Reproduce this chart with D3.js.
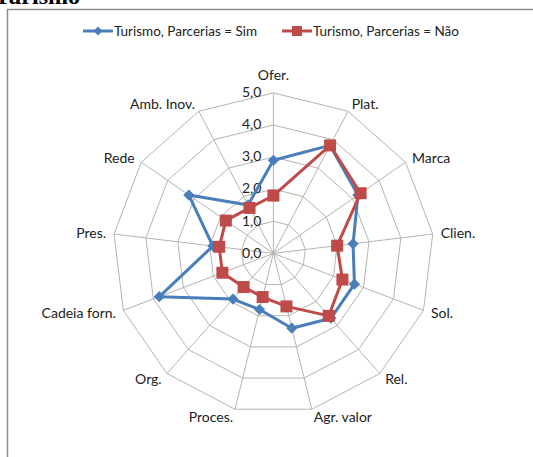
<!DOCTYPE html>
<html>
<head>
<meta charset="utf-8">
<script src="https://cdn.jsdelivr.net/npm/d3@7"></script>
<style>
  body { margin: 0; background: #fff; }
  svg { display: block; }
  text { font-family: Lato, "Open Sans", sans-serif; fill: #222; }
</style>
</head>
<body>
<div id="graph"></div>
<script>
const categories = ["Ofer.", "Plat.", "Marca", "Clien.", "Sol.", "Rel.", "Agr. valor", "Proces.", "Org.", "Cadeia forn.", "Pres.", "Rede", "Amb. Inov."]
const simValues = [2.9, 3.8, 3.2, 2.5, 2.7, 2.7, 2.4, 1.8, 1.9, 3.8, 1.9, 3.2, 1.7]
const naoValues = [1.8, 3.8, 3.3, 2.0, 2.3, 2.6, 1.7, 1.4, 1.4, 1.7, 1.7, 1.8, 1.6]
const tickValues = [0, 1, 2, 3, 4, 5]
const seriesNames = ["Turismo, Parcerias = Sim", "Turismo, Parcerias = Não"]

const width = 533
const height = 457
const cx = 273.4
const cy = 253.4
const radius = 160.5

const svg = d3.select("#graph")
  .append("svg")
  .attr("width", width)
  .attr("height", height)

// title, cut off at the top of the picture
svg.append("text")
  .attr("x", 80).attr("y", 4)
  .attr("text-anchor", "end")
  .style("font-family", "'Liberation Serif', 'DejaVu Serif', serif")
  .style("font-weight", "bold")
  .style("font-size", "24px")
  .style("fill", "#000")
  .text("Turismo")

// chart frame
svg.append("rect")
  .attr("x", 7.5).attr("y", 9.5)
  .attr("width", 600).attr("height", 600)
  .attr("fill", "none")
  .attr("stroke", "#8c8c8c")
  .attr("stroke-width", 1.5)

const r = d3.scaleLinear().domain([0, 5]).range([0, radius])
const angle = d3.scaleLinear().domain([0, categories.length]).range([0, 2 * Math.PI])

const g = svg.append("g").attr("transform", "translate(" + cx + "," + cy + ")")

const ring = d3.lineRadial()
  .angle((d, i) => angle(i))
  .radius(d => r(d))
  .curve(d3.curveLinearClosed)

// grid rings
tickValues.slice(1).forEach(t => {
  g.append("path")
    .attr("d", ring(categories.map(() => t)))
    .attr("fill", "none")
    .attr("stroke", "#b4b4b4")
    .attr("stroke-width", 1)
})

// spokes
categories.forEach((c, i) => {
  const a = angle(i)
  g.append("line")
    .attr("x1", 0).attr("y1", 0)
    .attr("x2", r(5) * Math.sin(a))
    .attr("y2", -r(5) * Math.cos(a))
    .attr("stroke", "#b4b4b4")
    .attr("stroke-width", 1)
})

// tick labels
tickValues.forEach(t => {
  g.append("text")
    .attr("x", -12)
    .attr("y", -r(t))
    .attr("dy", "0.3em")
    .attr("text-anchor", "end")
    .style("font-size", "14px")
    .text(d3.format(".1f")(t).replace(".", ","))
})

// category labels
categories.forEach((c, i) => {
  const a = angle(i)
  const s = Math.sin(a), co = Math.cos(a)
  let d = 8
  let anchor = "middle"
  if (s > 0.1) anchor = "start"
  else if (s < -0.1) anchor = "end"
  if (anchor == "middle") d = 18
  g.append("text")
    .attr("x", (r(5) + d) * s)
    .attr("y", -(r(5) + d) * co)
    .attr("dy", "0.35em")
    .attr("text-anchor", anchor)
    .style("font-size", "14px")
    .text(c)
})

const blue = "#4a7ebb"
const red = "#be4b48"

function drawSeries(values, color, shape) {
  g.append("path")
    .attr("d", ring(values))
    .attr("fill", "none")
    .attr("stroke", color)
    .attr("stroke-width", 3)
    .attr("stroke-linejoin", "round")
  values.forEach((v, i) => {
    const a = angle(i)
    g.append("path")
      .attr("transform", "translate(" + (r(v) * Math.sin(a)) + "," + (-r(v) * Math.cos(a)) + ")")
      .attr("d", shape)
      .attr("fill", color)
  })
}

const diamond = d3.symbol().type(d3.symbolDiamond2).size(80)()
const square = "M-6,-6H6V6H-6Z"

drawSeries(simValues, blue, diamond)
drawSeries(naoValues, red, square)

// legend
const legend = [
  { name: seriesNames[0], color: blue, shape: diamond, x: 83 },
  { name: seriesNames[1], color: red, shape: square, x: 282 }
]
legend.forEach(l => {
  svg.append("line")
    .attr("x1", l.x).attr("x2", l.x + 30)
    .attr("y1", 31).attr("y2", 31)
    .attr("stroke", l.color).attr("stroke-width", 3)
  svg.append("path")
    .attr("transform", "translate(" + (l.x + 15) + ",31)")
    .attr("d", l.shape == square ? "M-5,-5H5V5H-5Z" : d3.symbol().type(d3.symbolDiamond2).size(50)())
    .attr("fill", l.color)
  svg.append("text")
    .attr("x", l.x + 31).attr("y", 31)
    .attr("dy", "0.35em")
    .style("font-size", "13.5px")
    .text(l.name)
})
</script>
</body>
</html>
